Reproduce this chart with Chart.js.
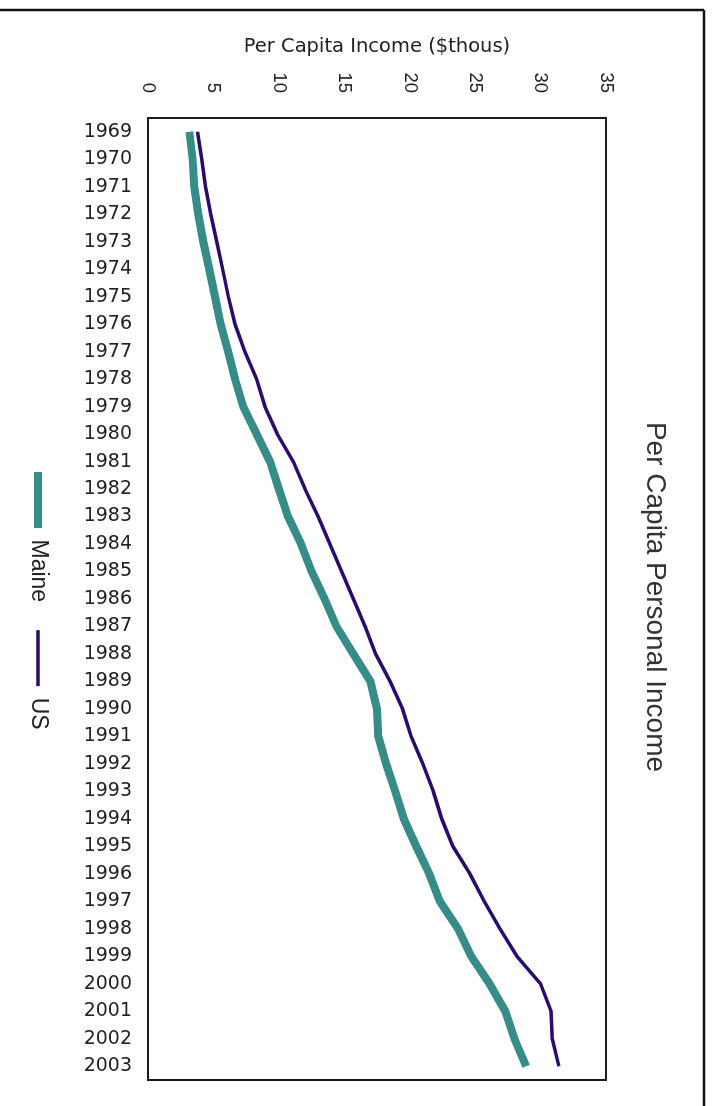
<!DOCTYPE html>
<html>
<head>
<meta charset="utf-8">
<title>Per Capita Personal Income</title>
<script src="https://cdn.jsdelivr.net/npm/chart.js@4.4.1/dist/chart.umd.min.js"></script>
<style>
  html, body { margin: 0; padding: 0; background: #fff; overflow: hidden; }
  body { width: 713px; height: 1106px; position: relative; }
  /* The chart is laid out landscape and turned a quarter turn clockwise. */
  #wrap {
    position: absolute; left: 0; top: 0;
    width: 1106px; height: 713px;
    transform-origin: 0 0;
    transform: translate(713px, 0) rotate(90deg);
  }
  canvas { display: block; }
</style>
</head>
<body>
<div id="wrap"><canvas id="chart" width="1106" height="713"></canvas></div>
<script>
// Per capita personal income, thousands of dollars
const years = ['1969','1970','1971','1972','1973','1974','1975','1976','1977','1978',
               '1979','1980','1981','1982','1983','1984','1985','1986','1987','1988',
               '1989','1990','1991','1992','1993','1994','1995','1996','1997','1998',
               '1999','2000','2001','2002','2003'];
const maineIncome = [3.16, 3.41, 3.54, 3.84, 4.22, 4.68, 5.12, 5.55, 6.13, 6.65,
                     7.28, 8.30, 9.32, 10.0, 10.7, 11.7, 12.5, 13.5, 14.4, 15.7,
                     17.0, 17.5, 17.6, 18.2, 18.9, 19.55, 20.5, 21.5, 22.3, 23.7,
                     24.7, 26.1, 27.3, 28.0, 28.9];
const usIncome = [3.79, 4.10, 4.40, 4.79, 5.25, 5.70, 6.14, 6.65, 7.41, 8.30,
                  8.94, 9.88, 11.1, 12.0, 13.0, 13.9, 14.8, 15.7, 16.6, 17.4,
                  18.5, 19.45, 20.1, 21.0, 21.8, 22.45, 23.3, 24.6, 25.7, 26.9,
                  28.2, 30.0, 30.8, 30.9, 31.4];
const incomeTicks = [0, 5, 10, 15, 20, 25, 30, 35];

const ARIAL = "'Liberation Sans', Arial, sans-serif";
const WIDE = "'DejaVu Sans', Verdana, sans-serif";
const TEXT = '#222';

const frame = {
  id: 'frame',
  afterLayout(chart) {
    // place the legend and the title block
    const lg = chart.legend;
    if (lg) {
      const pad = lg.options.labels.padding;
      const fs = lg.options.labels.font.size;
      const w = lg.right - lg.left;
      lg.left = 444; lg.right = 444 + w;
      const h = lg.bottom - lg.top;
      lg.top = 675 - pad - fs / 2; lg.bottom = lg.top + h;
    }
    const tb = chart.titleBlock;
    if (tb) {
      const half = 500;
      tb.left = 597 - half; tb.right = 597 + half;
    }
  },
  beforeDraw(chart) {
    const ctx = chart.ctx;
    ctx.save();
    ctx.fillStyle = '#fff';
    ctx.fillRect(0, 0, chart.width, chart.height);
    ctx.strokeStyle = '#111';
    ctx.lineWidth = 2.5;
    ctx.beginPath();
    ctx.moveTo(10, 9); ctx.lineTo(10, chart.height);
    ctx.moveTo(10, 9); ctx.lineTo(chart.width, 9);
    ctx.stroke();
    ctx.restore();
  },
  afterDatasetsDraw(chart) {
    const {ctx, chartArea: a} = chart;
    ctx.save();
    ctx.strokeStyle = '#1a1a1a';
    ctx.lineWidth = 2;
    ctx.strokeRect(a.left, a.top, a.right - a.left, a.bottom - a.top);
    ctx.restore();
  }
};

new Chart(document.getElementById('chart'), {
  type: 'line',
  data: {
    labels: years,
    datasets: [
      { label: 'Maine', data: maineIncome, borderColor: '#368c86', backgroundColor: '#368c86',
        borderWidth: 8, pointRadius: 0, tension: 0 },
      { label: 'US', data: usIncome, borderColor: '#2a0b70', backgroundColor: '#2a0b70',
        borderWidth: 3.5, pointRadius: 0, tension: 0 }
    ]
  },
  options: {
    responsive: false,
    animation: false,
    devicePixelRatio: 1,
    layout: { padding: { left: 10, right: 26, top: 15, bottom: 0 } },
    plugins: {
      title: {
        display: true,
        text: 'Per Capita Personal Income',
        color: '#333',
        font: { family: ARIAL, size: 28, weight: 'normal' },
        padding: { top: 26, bottom: 32.4 }
      },
      legend: {
        position: 'bottom',
        align: 'start',
        maxHeight: 50,
        labels: {
          color: TEXT,
          font: { family: ARIAL, size: 23 },
          usePointStyle: true,
          pointStyle: 'line',
          pointStyleWidth: 56,
          padding: 28
        }
      },
      tooltip: { enabled: false }
    },
    scales: {
      x: {
        type: 'category',
        offset: true,
        grid: { display: false, drawTicks: false },
        border: { display: false },
        afterFit(scale) { scale.height = 98; },
        ticks: {
          autoSkip: false, minRotation: 90, maxRotation: 90,
          padding: 16, color: TEXT,
          font: { family: WIDE, size: 19 }
        }
      },
      y: {
        min: 0, max: 35,
        grid: { display: false, drawTicks: false },
        border: { display: false },
        afterFit(scale) { scale.width = 108; },
        afterBuildTicks(scale) { scale.ticks = incomeTicks.map(v => ({ value: v })); },
        ticks: {
          padding: 25, color: TEXT,
          font: { family: ARIAL, size: 18.5 }
        },
        title: {
          display: true,
          text: 'Per Capita Income ($thous)',
          color: TEXT,
          font: { family: WIDE, size: 19.5 },
          padding: { top: 25.3, bottom: 0 }
        }
      }
    }
  },
  plugins: [frame]
});
</script>
</body>
</html>
